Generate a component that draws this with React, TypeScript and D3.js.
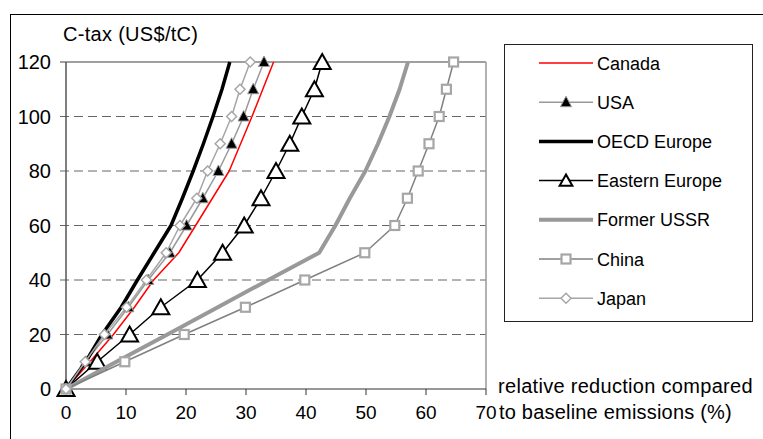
import React from "react";
import * as d3 from "d3";

// Carbon tax levels (US$/tC) at which each region's reduction is reported
const taxLevels = [0, 10, 20, 30, 40, 50, 60, 70, 80, 90, 100, 110, 120];

// Relative reduction compared to baseline emissions (%) per tax level
const canada = [0, 4.0, 7.9, 11.4, 14.6, 18.8, 21.6, 24.4, 27.2, 29.1, 31.0, 32.8, 34.6];
const usa = [0, 3.3, 6.9, 10.4, 13.7, 17.3, 20.1, 22.8, 25.4, 27.6, 29.6, 31.2, 33.0];
const oecdEurope = [0, 3.3, 6.0, 9.2, 11.9, 14.7, 17.5, 19.4, 21.2, 22.9, 24.5, 26.0, 27.3];
const easternEurope = [0, 5.2, 10.6, 15.8, 21.9, 26.1, 29.7, 32.5, 35.0, 37.3, 39.3, 41.4, 42.7];
const formerUSSR = [0, 8.4, 16.9, 25.3, 33.7, 42.2, 44.9, 47.3, 49.9, 52.0, 53.9, 55.6, 57.0];
const china = [0, 9.8, 19.7, 29.9, 39.8, 49.8, 54.8, 56.9, 58.7, 60.5, 62.2, 63.4, 64.6];
const japan = [0, 3.2, 6.4, 10.1, 13.4, 16.7, 19.0, 21.8, 23.6, 25.7, 27.6, 29.0, 30.7];

const xTicks = [0, 10, 20, 30, 40, 50, 60, 70];
const yTicks = [0, 20, 40, 60, 80, 100, 120];

type Marker = "none" | "triFilled" | "triOpen" | "square" | "diamond";

interface Series {
  name: string;
  values: number[];
  color: string;
  width: number;
  marker: Marker;
}

const series: Series[] = [
  { name: "Canada", values: canada, color: "#ff0000", width: 1.5, marker: "none" },
  { name: "USA", values: usa, color: "#999999", width: 1.5, marker: "triFilled" },
  { name: "OECD Europe", values: oecdEurope, color: "#000000", width: 3.5, marker: "none" },
  { name: "Eastern Europe", values: easternEurope, color: "#000000", width: 1.5, marker: "triOpen" },
  { name: "Former USSR", values: formerUSSR, color: "#999999", width: 4, marker: "none" },
  { name: "China", values: china, color: "#808080", width: 1.5, marker: "square" },
  { name: "Japan", values: japan, color: "#a6a6a6", width: 1.5, marker: "diamond" },
];

const FONT = "'Liberation Sans', Arial, sans-serif";

function MarkerShape({ kind, x, y, s = 1 }: { kind: Marker; x: number; y: number; s?: number }) {
  switch (kind) {
    case "triFilled":
      return (
        <path
          d={`M${x},${y - 6 * s}L${x + 5.5 * s},${y + 4.5 * s}L${x - 5.5 * s},${y + 4.5 * s}Z`}
          fill="#000"
          stroke="#999"
          strokeWidth={1}
        />
      );
    case "triOpen":
      return (
        <path
          d={`M${x},${y - 8 * s}L${x + 8.5 * s},${y + 7 * s}L${x - 8.5 * s},${y + 7 * s}Z`}
          fill="#fff"
          stroke="#000"
          strokeWidth={2}
          strokeLinejoin="miter"
        />
      );
    case "square":
      return (
        <rect
          x={x - 4.5 * s}
          y={y - 4.5 * s}
          width={9 * s}
          height={9 * s}
          fill="#fff"
          stroke="#a6a6a6"
          strokeWidth={2.2}
        />
      );
    case "diamond":
      return (
        <path
          d={`M${x},${y - 5 * s}L${x + 5 * s},${y}L${x},${y + 5 * s}L${x - 5 * s},${y}Z`}
          fill="#fff"
          stroke="#a6a6a6"
          strokeWidth={1.5}
        />
      );
    default:
      return null;
  }
}

export default function App() {
  const width = 763;
  const height = 439;

  const x = d3.scaleLinear().domain([0, 70]).range([66, 486]);
  const y = d3.scaleLinear().domain([0, 120]).range([389, 62]);

  const line = d3
    .line<[number, number]>()
    .x((d) => x(d[0]))
    .y((d) => y(d[1]));

  const legendX = 504.5;
  const legendY = 44.5;
  const rowY = (i: number) => 63 + i * 39.2;

  return (
    <div style={{ position: "fixed", left: 0, top: 0 }}>
      <svg width={width} height={height} style={{ display: "block", fontFamily: FONT }}>
        <rect x={0} y={0} width={width} height={height} fill="#fff" />
        {/* outer chart frame */}
        <rect x={10.5} y={14.5} width={width + 10} height={height + 10} fill="none" stroke="#000" strokeWidth={1} />

        {/* gridlines */}
        {yTicks.slice(1, -1).map((t) => (
          <line
            key={`g${t}`}
            x1={60}
            x2={x(70)}
            y1={y(t)}
            y2={y(t)}
            stroke="#666"
            strokeWidth={1}
            strokeDasharray="9,5"
          />
        ))}
        {/* top and right border of plot */}
        <line x1={60} x2={x(70)} y1={y(120)} y2={y(120)} stroke="#808080" strokeWidth={1.5} />
        <line x1={x(70)} x2={x(70)} y1={y(120)} y2={y(0)} stroke="#999" strokeWidth={1.5} />

        {/* y axis */}
        <line x1={x(0)} x2={x(0)} y1={y(120)} y2={y(0)} stroke="#555" strokeWidth={1.5} />
        <line x1={60} x2={x(0)} y1={y(0)} y2={y(0)} stroke="#333" strokeWidth={1.2} />
        {yTicks.map((t) => (
          <text key={`yl${t}`} x={51} y={y(t) + 7} textAnchor="end" fontSize={20} fill="#000">
            {t}
          </text>
        ))}
        <text x={63} y={41} fontSize={20} fill="#000" letterSpacing={0.3}>
          C-tax (US$/tC)
        </text>

        {/* x axis */}
        <line x1={x(0)} x2={x(70)} y1={y(0)} y2={y(0)} stroke="#333" strokeWidth={1.2} />
        {xTicks.map((t) => (
          <g key={`xt${t}`}>
            <line x1={x(t)} x2={x(t)} y1={y(0)} y2={y(0) + 6} stroke="#333" strokeWidth={1} />
            <text x={x(t)} y={419} textAnchor="middle" fontSize={19} fill="#000">
              {t}
            </text>
          </g>
        ))}
        <text x={498} y={393} fontSize={20} fill="#000" letterSpacing={0.3}>
          relative reduction compared
        </text>
        <text x={499} y={419} fontSize={20} fill="#000" letterSpacing={0.2}>
          to baseline emissions (%)
        </text>

        {/* series */}
        {series.map((s) => {
          const pts = taxLevels.map((t, i) => [s.values[i], t] as [number, number]);
          return (
            <g key={s.name}>
              <path
                d={line(pts) ?? ""}
                fill="none"
                stroke={s.color}
                strokeWidth={s.width}
                strokeLinejoin="round"
              />
              {pts.map((p, i) => (
                <MarkerShape key={i} kind={s.marker} x={x(p[0])} y={y(p[1])} />
              ))}
            </g>
          );
        })}

        {/* legend */}
        <rect x={legendX} y={legendY} width={248} height={277} fill="#fff" stroke="#222" strokeWidth={1} />
        {series.map((s, i) => {
          const ry = rowY(i);
          return (
            <g key={`lg${s.name}`}>
              <line x1={539} x2={593} y1={ry} y2={ry} stroke={s.color} strokeWidth={s.width} />
              <MarkerShape kind={s.marker} x={566} y={ry} s={s.marker === "triOpen" ? 0.75 : 1} />
              <text x={597} y={ry + 6.5} fontSize={18} fill="#000">
                {s.name}
              </text>
            </g>
          );
        })}
      </svg>
    </div>
  );
}
